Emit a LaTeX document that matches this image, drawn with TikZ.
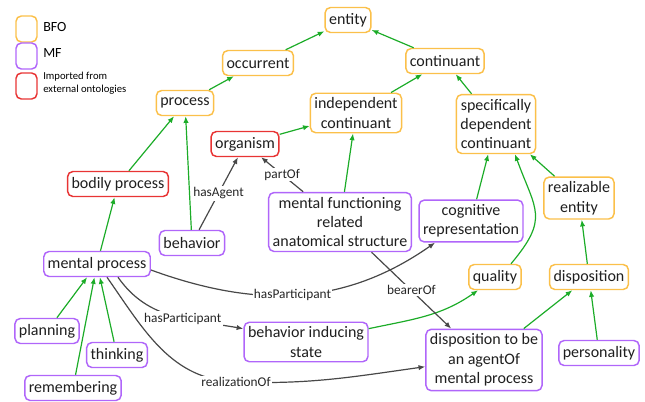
\documentclass[tikz,border=0pt]{standalone}
\usepackage{fontspec}
\setmainfont{Carlito}
\usepackage{xcolor}
\usetikzlibrary{arrows.meta}

\definecolor{bfoorange}{RGB}{251,192,74}
\definecolor{mfpurple}{RGB}{176,102,250}
\definecolor{extred}{RGB}{232,52,52}
\definecolor{isagreen}{RGB}{28,172,40}
\definecolor{relgray}{RGB}{72,72,72}

\begin{document}
\begin{tikzpicture}[x=0.75pt,y=-0.75pt]

\tikzset{
    box/.style = {
    draw, line width=1.1pt, rounded corners=4pt, fill=white,
    align=center, inner xsep=3pt, inner ysep=3.3pt,
    minimum height=18.75pt, text=black!88,
    font=\fontsize{12}{14.6}\selectfont
    },
    isa/.style = {draw=isagreen, line width=0.9pt, -{Latex[length=5pt,width=4pt]}},
    rel/.style = {draw=relgray, line width=0.9pt, -{Latex[length=5pt,width=4pt]}},
    lbl/.style = {fill=white, inner sep=1pt, text=black!85, font=\fontsize{10}{12}\selectfont},
    legend/.style = {draw, line width=1.1pt, rounded corners=4pt, minimum width=15.75pt, minimum height=19.5pt}
}

\tikzstyle{bfo}=[box, draw=bfoorange]
\tikzstyle{mf}=[box, draw=mfpurple]
\tikzstyle{ext}=[box, draw=extred]

\useasboundingbox (0,0) rectangle (645,401);

% legend
\node (leg-bfo) [legend, draw=bfoorange] at (26.5,29) {};
\node (leg-mf) [legend, draw=mfpurple] at (26.5,56) {};
\node (leg-ext) [legend, draw=extred] at (26.5,86) {};
\node (leg-bfo-t) [anchor=west, inner sep=0pt, font=\fontsize{10.5}{12}\selectfont] at (43,27) {BFO};
\node (leg-mf-t) [anchor=west, inner sep=0pt, font=\fontsize{10.5}{12}\selectfont] at (43,53) {MF};
\node (leg-ext-t) [anchor=west, inner sep=0pt, align=left, font=\fontsize{8}{9.8}\selectfont] at (43,83) {Imported from\\external ontologies};

% BFO
\node (entity) [bfo] at (348,20) {entity};
\node (occurrent) [bfo] at (258,63) {occurrent};
\node (continuant) [bfo] at (445,61) {continuant};
\node (process) [bfo] at (185,103) {process};
\node (indep) [bfo] at (356,113) {independent\\continuant};
\node (sdc) [bfo] at (496,124) {specifically\\dependent\\continuant};
\node (realizable) [bfo] at (579,198) {realizable\\entity};
\node (quality) [bfo] at (495,277) {quality};
\node (disposition) [bfo] at (589,277) {disposition};

% imported
\node (organism) [ext] at (245,144) {organism};
\node (bodily) [ext] at (118,184) {bodily process};

% MF
\node (behavior) [mf] at (192,243) {behavior};
\node (mfr) [mf] at (340,222) {mental functioning\\related\\anatomical structure};
\node (cogrep) [mf] at (471,221) {cognitive\\representation};
\node (mp) [mf] at (97,264) {mental process};
\node (planning) [mf] at (47,331) {planning};
\node (thinking) [mf] at (117,355) {thinking};
\node (remembering) [mf] at (73,388) {remembering};
\node (bis) [mf] at (306,342) {behavior inducing\\state};
\node (dis-agent) [mf] at (484,360) {disposition to be\\an agentOf\\mental process};
\node (personality) [mf] at (599,353) {personality};

% is_a
\draw[isa] (occurrent) -- (entity);
\draw[isa] (continuant) -- (entity);
\draw[isa] (process) -- (occurrent);
\draw[isa] (indep) -- (continuant);
\draw[isa] (sdc) -- (continuant);
\draw[isa] (organism) -- (indep);
\draw[isa] (mfr) -- (indep);
\draw[isa] (cogrep) -- (sdc);
\draw[isa] (realizable) -- (sdc);
\draw[isa] ([xshift=12pt]quality.north) to[out=50,in=-70,looseness=1.4] ([xshift=14.25pt]sdc.south);
\draw[isa] (disposition) -- (realizable);
\draw[isa] (personality) -- (disposition);
\draw[isa] (dis-agent) -- (disposition);
\draw[isa] ([yshift=10pt]bis.east) to[out=12,in=-145] ([xshift=-12.75pt]quality.south);
\draw[isa] (bodily) -- (process);
\draw[isa] (behavior) -- (process);
\draw[isa] (mp) -- (bodily);
\draw[isa] (planning) -- (mp);
\draw[isa] (thinking) -- (mp);
\draw[isa] (remembering) -- (mp);

% relations
\draw[rel] (behavior) -- node[lbl] {hasAgent} (organism);
\draw[rel] (mfr) -- node[lbl] {partOf} (organism);
\draw[rel] (mfr) -- node[lbl] {bearerOf} (dis-agent);
\draw[rel] ([yshift=-4.5pt]mp.east) to[out=-20,in=-145] node[lbl,pos=0.48] {hasParticipant} ([xshift=-27pt]cogrep.south);
\draw[rel] ([xshift=15.75pt]mp.south) to[out=-55,in=170] node[lbl,pos=0.58] {hasParticipant} ([yshift=10pt]bis.west);
\draw[rel] ([xshift=7.5pt]mp.south) to[out=-55,in=178] (236,382) node[lbl] {realizationOf} to[out=-2,in=188] ([yshift=-5pt]dis-agent.west);

\end{tikzpicture}
\end{document}
